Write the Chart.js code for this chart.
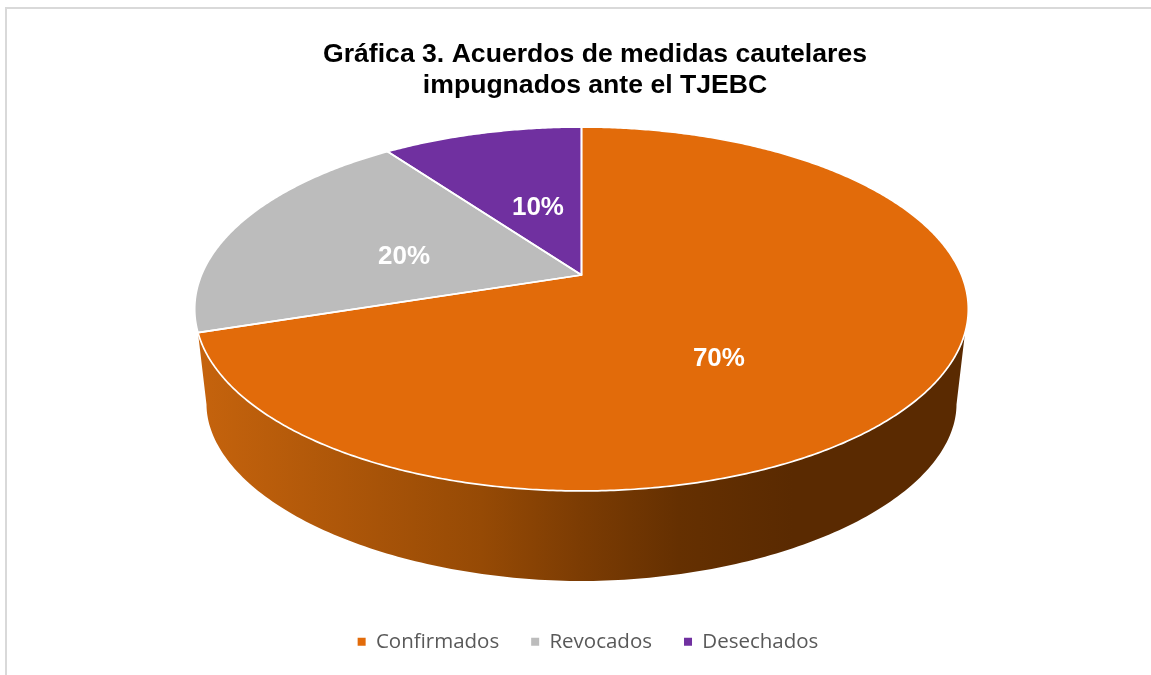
<!DOCTYPE html>
<html lang="es">
<head>
<meta charset="utf-8">
<title>Gráfica 3</title>
<script src="https://cdn.jsdelivr.net/npm/chart.js@4/dist/chart.umd.min.js"></script>
<style>
html,body{margin:0;padding:0;background:#fff;overflow:hidden}
#frame{position:absolute;left:5px;top:7px;width:1146px;height:668px;border-left:2px solid #d9d9d9;border-top:2px solid #d9d9d9;box-sizing:border-box}
canvas{position:absolute;left:0;top:0}
</style>
</head>
<body>
<div id="frame"></div>
<canvas id="c" width="1151" height="675"></canvas>
<script>
const categories = ['Confirmados', 'Revocados', 'Desechados'];
const values = [70, 20, 10];
const titleLines = ['Gráfica 3. Acuerdos de medidas cautelares', 'impugnados ante el TJEBC'];
const sliceColors = ['#E26B0A', '#BCBCBC', '#7030A0'];

// Perspective view of the pie disc (a circle seen through a homography)
const view = {cx: 581.5, apexY: 275, A: 380, B: 175.6, k: -0.1868,
              baseY: 404.5, baseA: 375, baseB: 176.5, baseN: 1.94};
const labelStyle = {radius: [0.547, 0.489, 0.435], turn: [16.6, -5, 1.5]};

function project(theta, r) { // theta: canvas angle, r: 0..1
  const u = r * Math.cos(theta), v = r * Math.sin(theta), d = 1 + view.k * v;
  return [view.cx + view.A * u / d, view.apexY + view.B * v / d];
}
function baseRim(t) { // lower edge of the side wall, t: 0..PI
  const c = Math.cos(t), s = Math.sin(t), e = 2 / view.baseN;
  return [view.cx + view.baseA * Math.sign(c) * Math.pow(Math.abs(c), e),
          view.baseY + view.baseB * Math.pow(Math.abs(s), e)];
}
const rad = d => d * Math.PI / 180;

function slicePath(ctx, arc) {
  const a0 = arc.startAngle, a1 = arc.endAngle;
  ctx.beginPath();
  const c = project(0, 0);
  ctx.moveTo(c[0], c[1]);
  const n = Math.ceil((a1 - a0) / rad(0.5));
  for (let j = 0; j <= n; j++) {
    const p = project(a0 + (a1 - a0) * j / n, 1);
    ctx.lineTo(p[0], p[1]);
  }
  ctx.closePath();
}

const pie3d = {
  id: 'pie3d',
  afterLayout(chart) {
    chart.titleBlock.left += 7;
    chart.titleBlock.right += 7;
  },
  beforeDatasetsDraw(chart) {
    const ctx = chart.ctx, arcs = chart.getDatasetMeta(0).data;
    ctx.save();
    // side wall
    const g = ctx.createLinearGradient(200, 0, 960, 0);
    [[0, '#C5630D'], [0.37, '#964A05'], [0.5, '#7C3C03'], [0.63, '#653001'], [0.78, '#5A2A01'], [1, '#5A2A01']]
      .forEach(s => g.addColorStop(s[0], s[1]));
    ctx.beginPath();
    for (let d = 18; d <= 162; d += 1) {
      const p = project(rad(d), 1);
      d === 18 ? ctx.moveTo(p[0], p[1]) : ctx.lineTo(p[0], p[1]);
    }
    for (let d = 180; d >= 0; d -= 1) {
      const p = baseRim(rad(d));
      ctx.lineTo(p[0], p[1]);
    }
    ctx.closePath();
    ctx.fillStyle = g;
    ctx.fill();
    // top face slices, angles taken from the library's arc elements
    arcs.forEach((arc, i) => {
      slicePath(ctx, arc);
      ctx.fillStyle = sliceColors[i];
      ctx.fill();
    });
    arcs.forEach(arc => {
      slicePath(ctx, arc);
      ctx.strokeStyle = '#fff';
      ctx.lineWidth = 1.7;
      ctx.lineJoin = 'round';
      ctx.stroke();
    });
    // value labels
    ctx.font = 'bold 26px "Liberation Sans", Arial, sans-serif';
    ctx.fillStyle = '#fff';
    ctx.textAlign = 'center';
    ctx.textBaseline = 'middle';
    arcs.forEach((arc, i) => {
      const mid = (arc.startAngle + arc.endAngle) / 2 + rad(labelStyle.turn[i]);
      const p = project(mid, labelStyle.radius[i]);
      ctx.fillText(values[i] + '%', p[0], p[1] + 1);
    });
    ctx.restore();
    return false;
  }
};

new Chart(document.getElementById('c'), {
  type: 'pie',
  data: {
    labels: categories,
    datasets: [{data: values, backgroundColor: sliceColors, borderWidth: 0}]
  },
  plugins: [pie3d],
  options: {
    responsive: false,
    animation: false,
    layout: {padding: {left: 25, right: 0, top: 0, bottom: 13}},
    plugins: {
      title: {
        display: true,
        text: titleLines,
        color: '#000',
        font: {family: '"Liberation Sans", Arial, sans-serif', size: 26.6, weight: 'bold', lineHeight: 1.165},
        padding: {top: 39, bottom: 10}
      },
      legend: {
        position: 'bottom',
        labels: {
          usePointStyle: true,
          pointStyle: 'rect',
          boxWidth: 8,
          boxHeight: 8,
          padding: 32,
          color: '#595959',
          font: {family: '"Open Sans", sans-serif', size: 20.5}
        }
      },
      tooltip: {enabled: false}
    }
  }
});
</script>
</body>
</html>
